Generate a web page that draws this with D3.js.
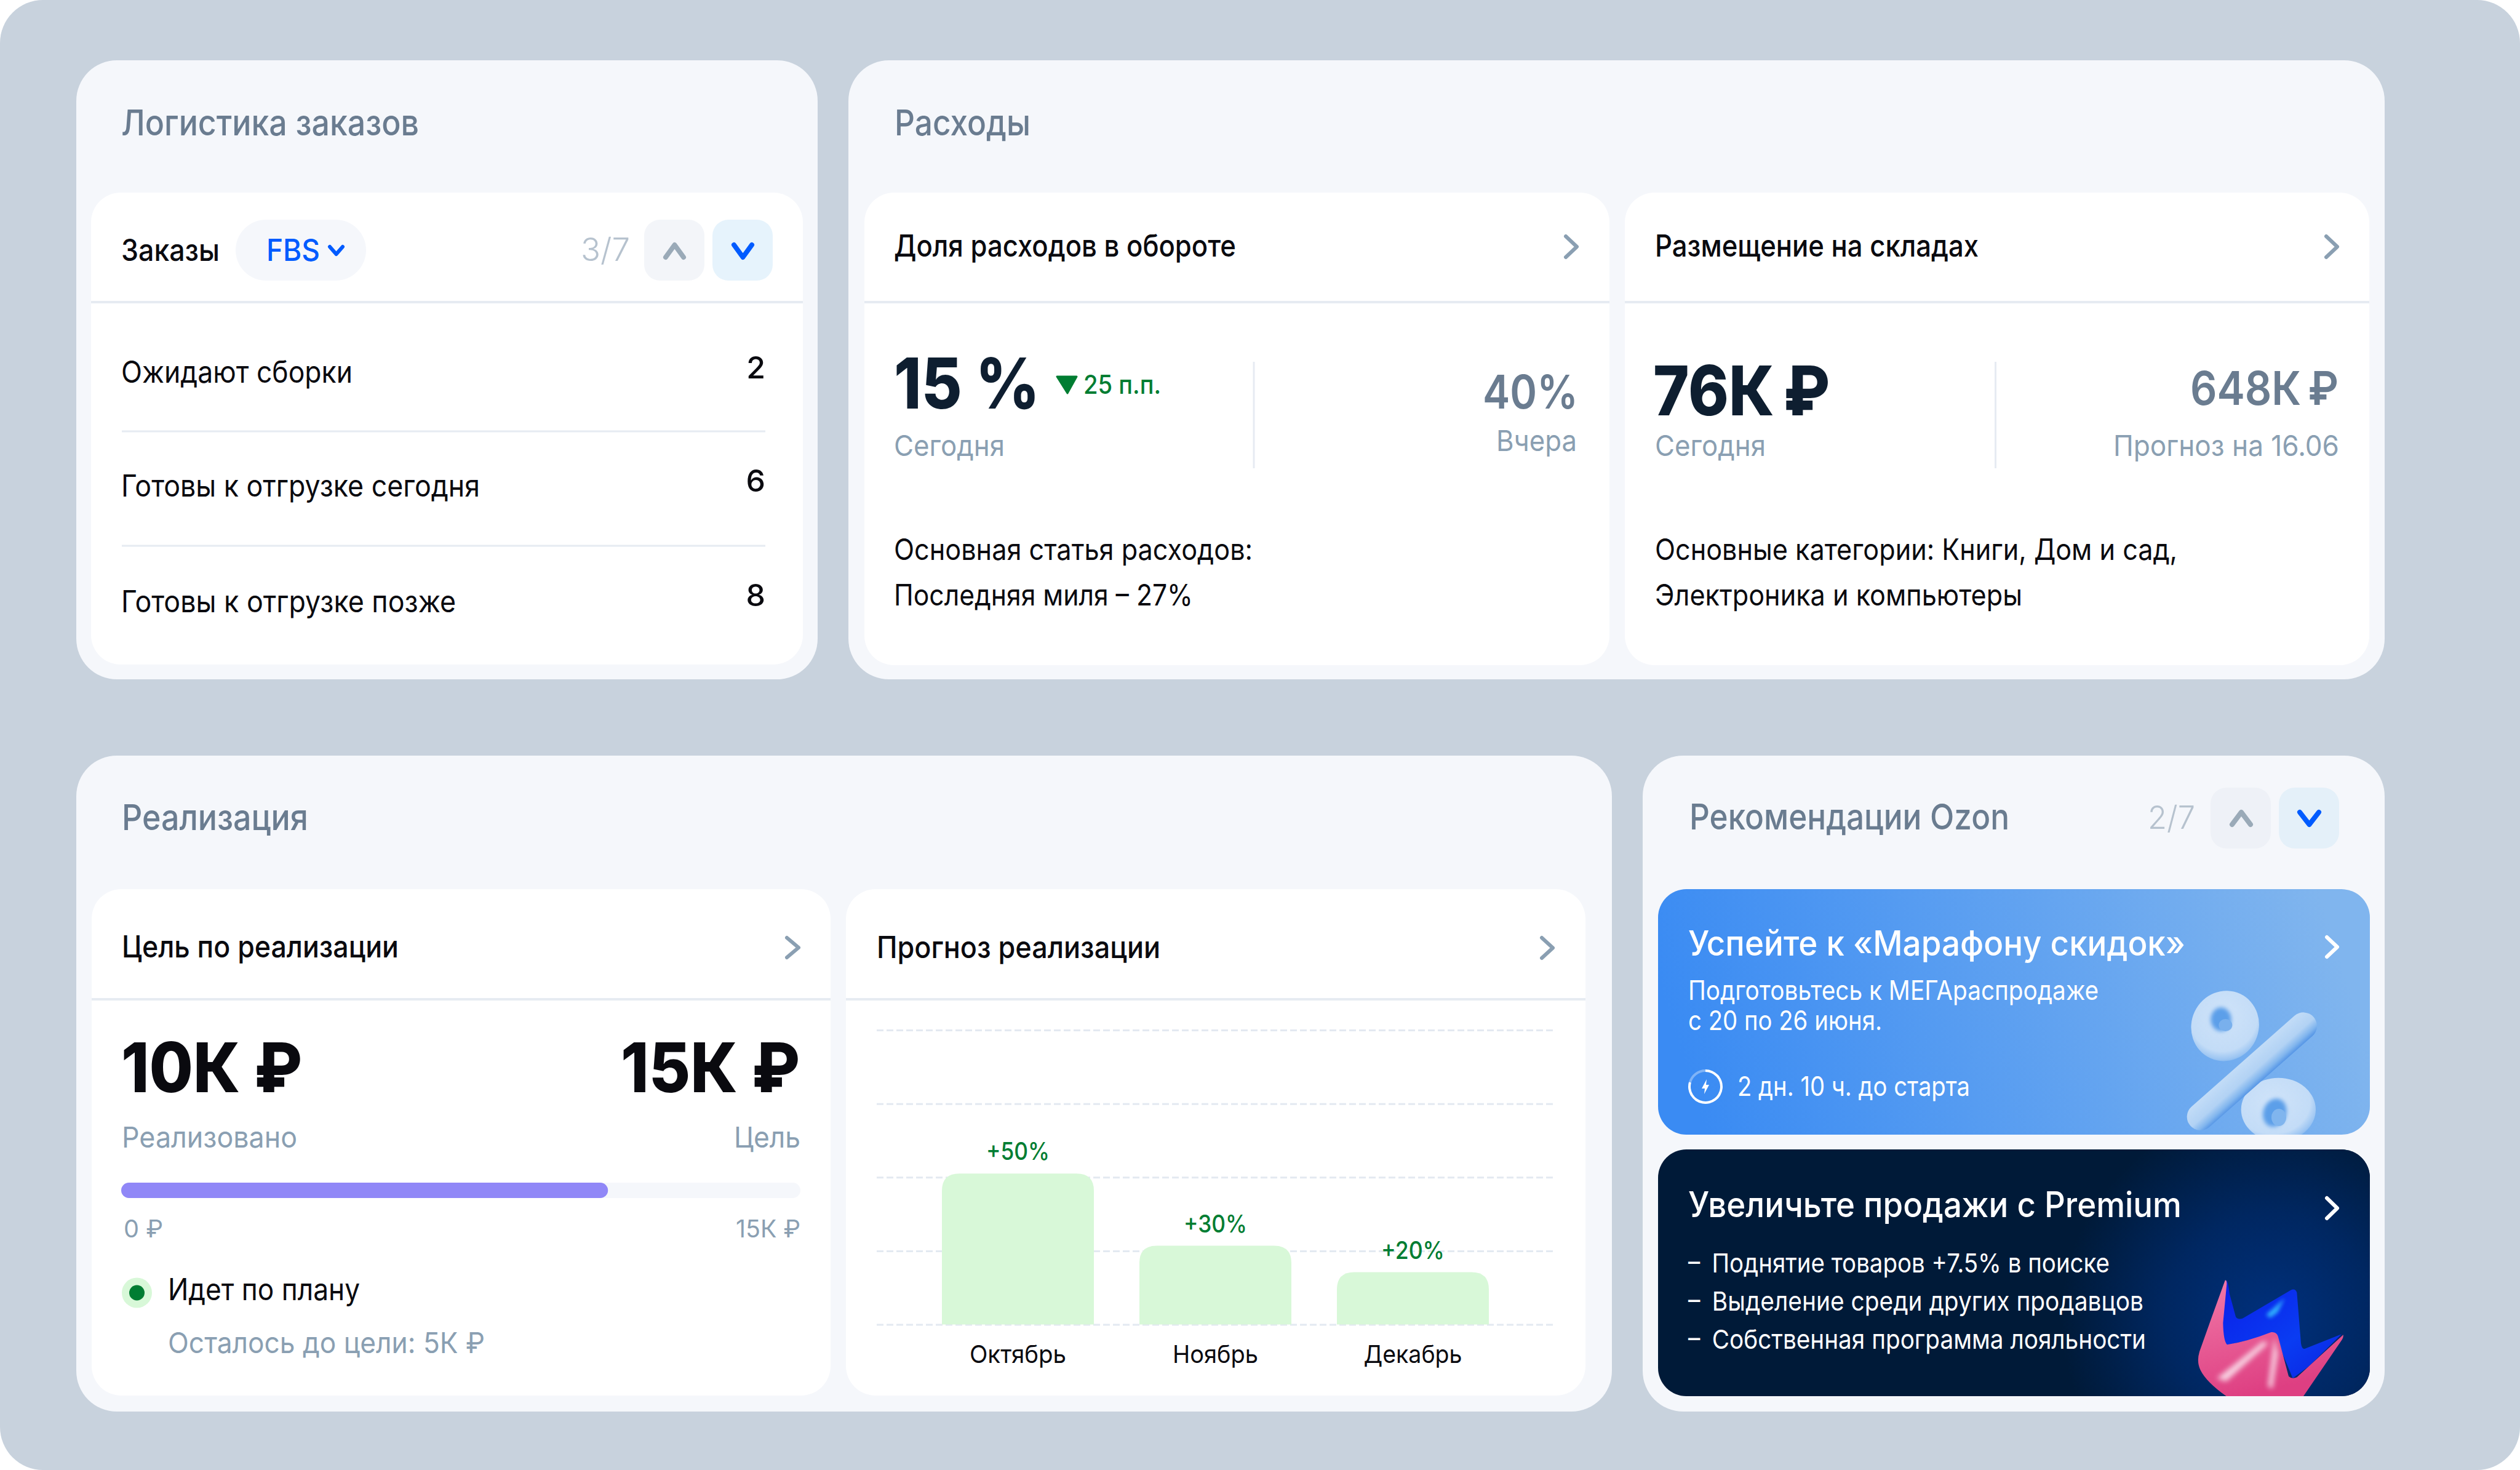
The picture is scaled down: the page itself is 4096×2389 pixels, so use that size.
<!DOCTYPE html>
<html lang="ru">
<head>
<meta charset="utf-8">
<script src="https://cdn.jsdelivr.net/npm/d3@7"></script>
<style>
html,body{margin:0;padding:0;background:#fff}
svg{display:block}
text{font-family:Inter,"Noto Sans",sans-serif;font-feature-settings:"kern"}
</style>
</head>
<body>
<svg id="c" width="4096" height="2389" viewBox="0 0 4096 2389"></svg>
<script>
// ---- data ----
const orderRows = ["Ожидают сборки", "Готовы к отгрузке сегодня", "Готовы к отгрузке позже"];
const orderCounts = [2, 6, 8];
const months = ["Октябрь", "Ноябрь", "Декабрь"];
const forecastLabels = ["+50%", "+30%", "+20%"];
const forecastHeights = [102.5, 53.5, 35.5];
const forecastTicks = [0, 50, 100, 150, 200];
const goalScale = [0, 15];
const goalReached = [10.75];
const goalLabels = ["0 ₽", "15К ₽"];
const premiumBullets = ["–\u2002Поднятие товаров +7.5% в поиске", "–\u2002Выделение среди других продавцов", "–\u2002Собственная программа лояльности"];

// ---- colours ----
const BG="#c8d2dd", PANEL="#f5f7fb", WHITE="#ffffff", LINE="#e6ebf2", INK="#0a0a0f", NAVY="#0e1e30",
      SLATE="#6a7c90", MUTED="#8a9fb2", GREEN="#007d32", BAR="#d8f8d8", BLUE="#005bff", CHEV="#8a9fb2";

const root = d3.select("#c");
const defs = root.append("defs");

function rect(p,x0,y0,x1,y1,r,fill){return p.append("rect").attr("x",x0).attr("y",y0).attr("width",x1-x0).attr("height",y1-y0).attr("rx",r).attr("ry",r).attr("fill",fill);}
function txt(p,x,y,s,o){
  const end=o.anchor==="end";
  const t=p.append("text").attr("x",end?x+1:x-1).attr("y",y).text(s)
    .attr("font-size",o.size).attr("font-weight",o.weight||400).attr("fill",o.fill||INK)
    .attr("text-anchor",o.anchor||"start");
  if(o.w) t.attr("textLength",o.w+3).attr("lengthAdjust","spacingAndGlyphs");
  return t;
}
function hline(p,x0,x1,y,c,sw){return p.append("line").attr("x1",x0).attr("x2",x1).attr("y1",y).attr("y2",y).attr("stroke",c||LINE).attr("stroke-width",sw||4);}
function vline(p,x,y0,y1){return p.append("line").attr("x1",x).attr("x2",x).attr("y1",y0).attr("y2",y1).attr("stroke",LINE).attr("stroke-width",3);}
const chevLine=d3.line();
function chev(p,pts,c,sw){return p.append("path").attr("d",chevLine(pts)).attr("fill","none").attr("stroke",c).attr("stroke-width",sw).attr("stroke-linecap","round").attr("stroke-linejoin","round");}
function chevRight(p,x0,x1,y0,y1,c,sw){return chev(p,[[x0,y0],[x1,(y0+y1)/2],[x0,y1]],c||CHEV,sw||6);}
function chevUp(p,x0,x1,y0,y1,c,sw){return chev(p,[[x0,y1],[(x0+x1)/2,y0],[x1,y1]],c,sw||8);}
function chevDown(p,x0,x1,y0,y1,c,sw){return chev(p,[[x0,y0],[(x0+x1)/2,y1],[x1,y0]],c,sw||8);}

// page background
rect(root,0,0,4096,2389,70,BG);
const svg = root.append("g").attr("transform","translate(0,2)");

// panels
rect(svg,124,96,1329,1102,66,PANEL);
rect(svg,1379,96,3876,1102,66,PANEL);
rect(svg,124,1226,2620,2292,66,PANEL);
rect(svg,2670,1226,3876,2292,66,PANEL);

// panel titles
txt(svg,198,218,"Логистика заказов",{size:58,weight:500,fill:SLATE,w:481});
txt(svg,1455,218,"Расходы",{size:58,weight:500,fill:SLATE,w:218});
txt(svg,199,1347,"Реализация",{size:58,weight:500,fill:SLATE,w:300});
txt(svg,2747,1346,"Рекомендации Ozon",{size:58,weight:500,fill:SLATE,w:517});

// ---------- Orders card ----------
const orders=svg.append("g");
rect(orders,148,311,1305,1078,48,WHITE);
hline(orders,148,1305,489);
txt(orders,198,422,"Заказы",{size:49,weight:500,w:157});
rect(orders,383,355,595,454,49.5,PANEL);
txt(orders,434,422,"FBS",{size:50,weight:500,fill:BLUE,w:84});
chevDown(orders,536,557,399,411,BLUE,6);
txt(orders,945,422,"3/7",{size:52,weight:300,fill:"#b6c2ce",w:77});
rect(orders,1047,355,1145,454,26,"#f3f5f9");
chevUp(orders,1082,1111,396,416,"#9aaab8");
rect(orders,1158,355,1256,454,26,"#e6f3fc");
chevDown(orders,1193,1222,396,416,BLUE);
const rowBase=[620,805,993], numBase=[613,797,983], rowW=[373,580,541], rowLine=[699,885];
orderRows.forEach((r,i)=>{
  txt(orders,198,rowBase[i],r,{size:49,w:rowW[i]});
  txt(orders,1243,numBase[i],d3.format("d")(orderCounts[i]),{size:50,weight:500,anchor:"end"});
});
rowLine.forEach(y=>hline(orders,198,1244,y,LINE,3));

// ---------- Expenses ----------
const exp1=svg.append("g");
rect(exp1,1405,311,2616,1079,48,WHITE);
hline(exp1,1405,2616,489);
txt(exp1,1454,415,"Доля расходов в обороте",{size:50,weight:500,w:553});
chevRight(exp1,2545,2563,382,416);
txt(exp1,1454,662,"15 %",{size:114,weight:800,fill:NAVY,w:234});
exp1.append("path").attr("d","M1718 610H1750L1735 637Z").attr("fill",GREEN).attr("stroke",GREEN).attr("stroke-width",3).attr("stroke-linejoin","round");
txt(exp1,1762,638,"25 п.п.",{size:42,weight:500,fill:GREEN,w:123});
vline(exp1,2038,586,759);
txt(exp1,2564,662,"40%",{size:76,weight:600,fill:SLATE,anchor:"end",w:152});
txt(exp1,2562,731,"Вчера",{size:47,fill:MUTED,anchor:"end",w:128});
txt(exp1,1454,739,"Сегодня",{size:47,fill:MUTED,w:177});
txt(exp1,1454,908,"Основная статья расходов:",{size:48,w:580});
txt(exp1,1454,982,"Последняя миля – 27%",{size:48,w:483});

const exp2=svg.append("g");
rect(exp2,2641,311,3851,1079,48,WHITE);
hline(exp2,2641,3851,489);
txt(exp2,2691,415,"Размещение на складах",{size:50,weight:500,w:523});
chevRight(exp2,3781,3799,382,416);
txt(exp2,2688,673,"76К\u2009₽",{size:112,weight:800,fill:NAVY,w:284});
txt(exp2,3800,656,"648К\u2009₽",{size:76,weight:600,fill:SLATE,anchor:"end",w:238});
txt(exp2,2691,739,"Сегодня",{size:47,fill:MUTED,w:177});
txt(exp2,3801,739,"Прогноз на 16.06",{size:47,fill:MUTED,anchor:"end",w:364});
vline(exp2,3243.5,586,759);
txt(exp2,2691,908,"Основные категории: Книги, Дом и сад,",{size:48,w:846});
txt(exp2,2691,982,"Электроника и компьютеры",{size:48,w:594});

// ---------- Goal card ----------
const goal=svg.append("g");
rect(goal,149,1443,1350,2266,48,WHITE);
hline(goal,149,1350,1622);
txt(goal,199,1554,"Цель по реализации",{size:50,weight:500,w:447});
chevRight(goal,1279,1298,1522,1554);
txt(goal,198,1773,"10К ₽",{size:112,weight:800,w:291});
txt(goal,1299,1773,"15К ₽",{size:112,weight:800,anchor:"end",w:288});
txt(goal,199,1863,"Реализовано",{size:47,fill:MUTED,w:282});
txt(goal,1300,1863,"Цель",{size:47,fill:MUTED,anchor:"end",w:105});
const goalX=d3.scaleLinear().domain(goalScale).range([197,1301]);
rect(goal,goalX(goalScale[0]),1920,goalX(goalScale[1]),1945,12.5,PANEL);
goal.selectAll("rect.fill").data(goalReached).join("rect").attr("class","fill")
  .attr("x",goalX(0)).attr("y",1920).attr("width",d=>goalX(d)-goalX(0)).attr("height",25).attr("rx",12.5).attr("fill","#9087f7");
txt(goal,202,2009,goalLabels[0],{size:39,fill:MUTED,w:61});
txt(goal,1300,2009,goalLabels[1],{size:39,fill:MUTED,anchor:"end",w:102});
goal.append("circle").attr("cx",222.5).attr("cy",2099).attr("r",24.5).attr("fill",BAR);
goal.append("circle").attr("cx",222.5).attr("cy",2099).attr("r",12.5).attr("fill",GREEN);
txt(goal,274,2111,"Идет по плану",{size:49,w:309});
txt(goal,274,2197,"Осталось до цели: 5К ₽",{size:47,fill:MUTED,w:512});

// ---------- Forecast chart ----------
const fc=svg.append("g");
rect(fc,1375,1443,2577,2266,48,WHITE);
hline(fc,1375,2577,1622);
txt(fc,1426,1555,"Прогноз реализации",{size:50,weight:500,w:458});
chevRight(fc,2506,2524,1522,1555);

const xBand=d3.scaleBand().domain(months).range([1531,2420]).paddingInner(0.2305).paddingOuter(0);
const y=d3.scaleLinear().domain([0,200]).range([2150.5,1672]);
const gridG=fc.append("g").attr("transform","translate(1425,0)")
  .call(d3.axisLeft(y).tickValues(forecastTicks).tickSize(-1101).tickFormat(""));
gridG.select(".domain").remove();
gridG.selectAll("line").attr("stroke","#e3e9f1").attr("stroke-width",3).attr("stroke-dasharray","11 5");

const barPath=d=>{
  const x0=xBand(d.m), w=xBand.bandwidth(), yt=y(d.v), yb=y(0), r=28;
  return `M${x0} ${yb}V${yt+r}Q${x0} ${yt} ${x0+r} ${yt}H${x0+w-r}Q${x0+w} ${yt} ${x0+w} ${yt+r}V${yb}Z`;
};
const fd=months.map((m,i)=>({m,v:forecastHeights[i],l:forecastLabels[i]}));
fc.selectAll("path.bar").data(fd).join("path").attr("class","bar").attr("d",barPath).attr("fill",BAR);
fc.selectAll("text.lab").data(fd).join("text").attr("class","lab")
  .attr("x",d=>xBand(d.m)+xBand.bandwidth()/2).attr("y",d=>y(d.v)-22)
  .attr("text-anchor","middle").attr("font-size",39).attr("font-weight",500).attr("fill",GREEN)
  .attr("textLength",103).attr("lengthAdjust","spacingAndGlyphs").text(d=>d.l);
const monthW=[157,139,160];
const xAxis=fc.append("g").attr("transform","translate(0,2150)")
  .call(d3.axisBottom(xBand).tickSize(0).tickPadding(32));
xAxis.select(".domain").remove();
xAxis.selectAll("text").attr("font-size",40).attr("font-family","Inter").attr("fill",INK).attr("dy","0.71em").attr("y",35)
  .attr("textLength",(d,i)=>monthW[i]).attr("lengthAdjust","spacingAndGlyphs");

// ---------- Recommendations header ----------
const rec=svg.append("g");
txt(rec,3492,1345,"2/7",{size:52,weight:300,fill:"#b6c2ce",w:74});
rect(rec,3593,1278,3691,1377,26,"#eef1f7");
chevUp(rec,3628,3658,1318,1338,"#9aaab8");
rect(rec,3704,1278,3802,1377,26,"#e4f0f9");
chevDown(rec,3738,3769,1318,1338,BLUE);

// ---------- Blue promo ----------
const gr1=defs.append("linearGradient").attr("id","blueBg").attr("gradientUnits","userSpaceOnUse")
  .attr("x1",2760).attr("y1",1800).attr("x2",3780).attr("y2",1480);
gr1.append("stop").attr("offset",0).attr("stop-color","#3a8bf3");
gr1.append("stop").attr("offset",1).attr("stop-color","#80b5ee");
defs.append("clipPath").attr("id","clipBlue").append("rect").attr("x",2695).attr("y",1443).attr("width",1157).attr("height",399).attr("rx",46);
defs.append("clipPath").attr("id","clipDark").append("rect").attr("x",2695).attr("y",1866).attr("width",1157).attr("height",401).attr("rx",46);

const mkBlur=(id,s)=>defs.append("filter").attr("id",id).attr("x","-40%").attr("y","-40%").attr("width","180%").attr("height","180%").append("feGaussianBlur").attr("stdDeviation",s);
mkBlur("soft",9); mkBlur("soft3",13);
const rg=defs.append("radialGradient").attr("id","ring").attr("cx",0.42).attr("cy",0.38).attr("r",0.7);
rg.append("stop").attr("offset",0).attr("stop-color","#cfe3f9");
rg.append("stop").attr("offset",0.72).attr("stop-color","#c3dcf7");
rg.append("stop").attr("offset",0.88).attr("stop-color","#9cc5f2");
rg.append("stop").attr("offset",1).attr("stop-color","#6fabec");
const bg=defs.append("linearGradient").attr("id","slash").attr("gradientUnits","userSpaceOnUse")
  .attr("x1",617).attr("y1",494).attr("x2",705).attr("y2",593);
bg.append("stop").attr("offset",0).attr("stop-color","#c2dcf7");
bg.append("stop").attr("offset",0.55).attr("stop-color","#b2d2f4");
bg.append("stop").attr("offset",0.82).attr("stop-color","#82b6ee");
bg.append("stop").attr("offset",1).attr("stop-color","#5696e6");

const blue=svg.append("g");
rect(blue,2695,1443,3852,1842,46,"url(#blueBg)");
const pct=blue.append("g").attr("clip-path","url(#clipBlue)").append("g").attr("transform","translate(3440,1558) scale(0.33333)");
// lower ring
pct.append("ellipse").attr("cx",790).attr("cy",730).attr("rx",182).attr("ry",155).attr("fill","url(#ring)");
pct.append("ellipse").attr("cx",772).attr("cy",745).attr("rx",56).attr("ry",70).attr("fill","#5c9fe9").attr("filter","url(#soft)").attr("transform","rotate(20 772 745)");
pct.append("ellipse").attr("cx",792).attr("cy",768).attr("rx",36).attr("ry",42).attr("fill","#80b5ee");
// slash
pct.append("line").attr("x1",410).attr("y1",765).attr("x2",912).attr("y2",322).attr("stroke","url(#slash)").attr("stroke-width",132).attr("stroke-linecap","round");
// upper ring
pct.append("ellipse").attr("cx",530).attr("cy",322).attr("rx",164).attr("ry",173).attr("fill","url(#ring)").attr("transform","rotate(25 530 322)");
pct.append("ellipse").attr("cx",510).attr("cy",290).attr("rx",50).attr("ry",58).attr("fill","#5c9fe9").attr("filter","url(#soft)");
pct.append("ellipse").attr("cx",532).attr("cy",318).attr("rx",33).attr("ry",30).attr("fill","#79b0ed");

txt(blue,2745,1551,"Успейте к «Марафону скидок»",{size:56,weight:500,fill:WHITE,w:805});
chevRight(blue,3782,3799,1521,1553,WHITE,6);
txt(blue,2745,1623,"Подготовьтесь к МЕГАраспродаже",{size:44,fill:WHITE,w:664});
txt(blue,2745,1672,"с 20 по 26 июня.",{size:44,fill:WHITE,w:312});
// timer ring
const arc=d3.arc().innerRadius(24).outerRadius(28);
const timer=blue.append("g").attr("transform","translate(2772,1764)");
timer.append("path").attr("d",arc({startAngle:-1.3,endAngle:0})).attr("fill","#ffffff").attr("opacity",0.35);
timer.append("path").attr("d",arc({startAngle:0,endAngle:2*Math.PI-1.3})).attr("fill","#ffffff");
timer.append("path").attr("d","M2 -12L-6 3H-1L-2 12L6 -3H1Z").attr("fill","#ffffff");
txt(blue,2825,1779,"2 дн. 10 ч. до старта",{size:44,fill:WHITE,w:375});

// ---------- Dark promo ----------
const rg2=defs.append("radialGradient").attr("id","glow").attr("gradientUnits","userSpaceOnUse").attr("cx",3690).attr("cy",2140).attr("r",340);
rg2.append("stop").attr("offset",0).attr("stop-color","#00307c");
rg2.append("stop").attr("offset",0.5).attr("stop-color","#002761");
rg2.append("stop").attr("offset",1).attr("stop-color","#001a38");
const pk=defs.append("linearGradient").attr("id","pink").attr("x1",0).attr("y1",0).attr("x2",0.3).attr("y2",1);
pk.append("stop").attr("offset",0).attr("stop-color","#f17aa8");
pk.append("stop").attr("offset",1).attr("stop-color","#de3f82");
const bl=defs.append("linearGradient").attr("id","bluec").attr("x1",0).attr("y1",0).attr("x2",1).attr("y2",1);
bl.append("stop").attr("offset",0).attr("stop-color","#0a1ee8");
bl.append("stop").attr("offset",0.6).attr("stop-color","#0a3cf2");
bl.append("stop").attr("offset",1).attr("stop-color","#0a22e0");

const dark=svg.append("g");
rect(dark,2695,1866,3852,2267,46,"#001a38");
const art=dark.append("g").attr("clip-path","url(#clipDark)");
art.append("rect").attr("x",3300).attr("y",1800).attr("width",600).attr("height",500).attr("fill","url(#glow)");
const cr=art.append("g").attr("transform","translate(3520,2038) scale(0.33333)");
cr.append("path").attr("fill","url(#bluec)")
  .attr("d","M296 122Q305 130 312 190L342 300Q350 315 375 308L610 170Q632 160 640 182L660 430Q665 462 680 455L858 385L700 540L620 600L530 385L290 440L270 300Z");
cr.append("path").attr("fill","#35c0ff").attr("opacity",0.9).attr("filter","url(#soft)").attr("d","M490 290L580 210L545 280L510 305Z");
cr.append("path").attr("fill","url(#pink)")
  .attr("d","M290 122Q298 118 298 140L280 330Q282 420 300 436Q400 420 515 375Q540 372 548 395L600 590Q615 605 640 595L866 388Q868 400 860 412L670 690H300Q200 620 170 560Q150 520 165 470Q225 300 290 122Z");
cr.append("path").attr("fill","#ffffff").attr("opacity",0.75).attr("filter","url(#soft3)").attr("d","M475 420L500 430L295 615L250 600Z");
cr.append("path").attr("fill","#ffffff").attr("opacity",0.7).attr("filter","url(#soft3)").attr("d","M530 400L548 480L522 650L498 640Z");

txt(dark,2745,1976,"Увеличьте продажи с Premium",{size:57,weight:500,fill:WHITE,w:799});
chevRight(dark,3782,3799,1945,1978,WHITE,6);
const bulletBase=[2066,2128,2190], bulletW=[682,737,741];
premiumBullets.forEach((b,i)=>txt(dark,2745,bulletBase[i],b,{size:43,fill:WHITE,w:bulletW[i]}));
</script>
</body>
</html>
